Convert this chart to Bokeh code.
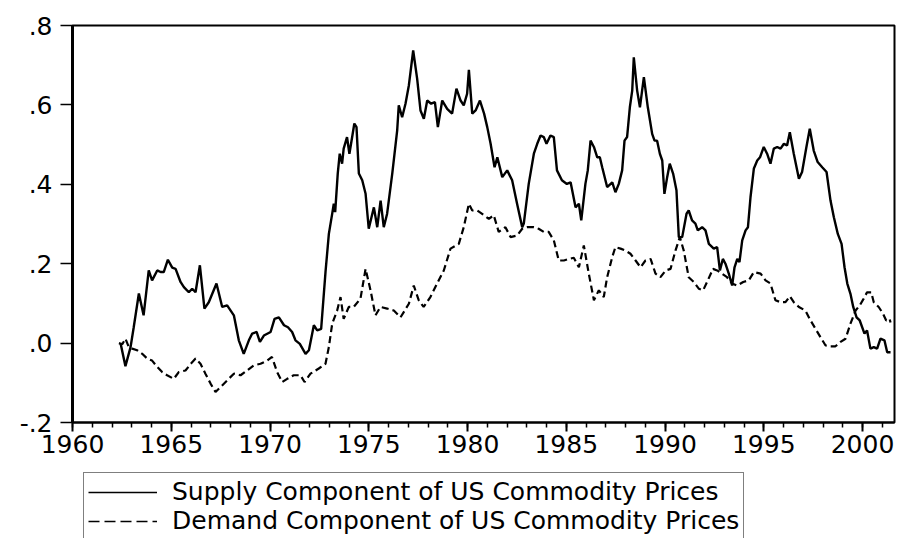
from bokeh.plotting import figure
from bokeh.layouts import column
from bokeh.models import (Range1d, FixedTicker, SingleIntervalTicker, Legend, LegendItem)
from bokeh.embed import file_html
from bokeh.resources import INLINE

# ---- data ----
supply_year = [1962.43, 1962.68, 1962.94, 1963.10, 1963.36, 1963.60, 1963.86, 1964.03, 1964.29, 1964.46,
               1964.62, 1964.83, 1965.05, 1965.22, 1965.47, 1965.64, 1965.89, 1966.06, 1966.23, 1966.45,
               1966.68, 1966.90, 1967.29, 1967.58, 1967.83, 1968.17, 1968.42, 1968.67, 1968.93, 1969.10,
               1969.32, 1969.49, 1969.69, 1970.03, 1970.23, 1970.45, 1970.71, 1970.91, 1971.12, 1971.29,
               1971.51, 1971.80, 1971.97, 1972.22, 1972.39, 1972.59, 1972.81, 1972.98, 1973.15, 1973.23,
               1973.30, 1973.43, 1973.53, 1973.65, 1973.73, 1973.90, 1974.02, 1974.16, 1974.27, 1974.38,
               1974.50, 1974.67, 1974.84, 1975.00, 1975.26, 1975.43, 1975.60, 1975.76, 1975.93, 1976.19,
               1976.44, 1976.52, 1976.69, 1976.86, 1977.03, 1977.25, 1977.45, 1977.62, 1977.79, 1977.96,
               1978.16, 1978.35, 1978.50, 1978.72, 1978.97, 1979.22, 1979.44, 1979.65, 1979.81, 1979.98,
               1980.07, 1980.24, 1980.41, 1980.63, 1980.84, 1981.00, 1981.17, 1981.37, 1981.51, 1981.76,
               1982.01, 1982.26, 1982.51, 1982.77, 1982.85, 1983.10, 1983.36, 1983.53, 1983.70, 1983.86,
               1984.00, 1984.20, 1984.37, 1984.53, 1984.78, 1985.03, 1985.22, 1985.47, 1985.64, 1985.76,
               1985.97, 1986.09, 1986.23, 1986.40, 1986.57, 1986.70, 1986.82, 1987.07, 1987.33, 1987.49,
               1987.66, 1987.83, 1987.95, 1988.08, 1988.22, 1988.34, 1988.42, 1988.59, 1988.73, 1988.93,
               1989.13, 1989.35, 1989.47, 1989.60, 1989.74, 1989.86, 1989.97, 1990.11, 1990.24, 1990.41,
               1990.58, 1990.70, 1990.87, 1991.09, 1991.20, 1991.37, 1991.54, 1991.66, 1991.88, 1992.05,
               1992.22, 1992.47, 1992.64, 1992.78, 1992.93, 1993.06, 1993.23, 1993.40, 1993.52, 1993.66,
               1993.77, 1993.91, 1994.08, 1994.20, 1994.33, 1994.50, 1994.67, 1994.81, 1995.00, 1995.17,
               1995.34, 1995.51, 1995.68, 1995.85, 1996.02, 1996.18, 1996.32, 1996.52, 1996.78, 1996.94,
               1997.16, 1997.33, 1997.53, 1997.73, 1997.96, 1998.18, 1998.38, 1998.55, 1998.75, 1998.94,
               1999.09, 1999.23, 1999.39, 1999.53, 1999.70, 1999.86, 2000.10, 2000.23, 2000.40, 2000.57,
               2000.74, 2000.91, 2001.11, 2001.25, 2001.42]
supply_value = [0.000, -0.058, -0.010, 0.040, 0.125, 0.070, 0.183, 0.158, 0.183, 0.179,
                0.179, 0.210, 0.190, 0.187, 0.154, 0.141, 0.128, 0.137, 0.128, 0.196,
                0.087, 0.103, 0.150, 0.091, 0.095, 0.070, 0.007, -0.027, 0.007, 0.024,
                0.028, 0.003, 0.019, 0.028, 0.061, 0.065, 0.045, 0.040, 0.028, 0.007,
                -0.002, -0.027, -0.018, 0.045, 0.032, 0.036, 0.179, 0.275, 0.326, 0.351,
                0.330, 0.427, 0.477, 0.452, 0.490, 0.519, 0.477, 0.519, 0.553, 0.544,
                0.427, 0.410, 0.376, 0.288, 0.342, 0.292, 0.359, 0.292, 0.326, 0.427,
                0.536, 0.599, 0.569, 0.603, 0.649, 0.737, 0.666, 0.586, 0.565, 0.611,
                0.603, 0.607, 0.544, 0.611, 0.590, 0.578, 0.641, 0.611, 0.599, 0.628,
                0.688, 0.578, 0.586, 0.611, 0.578, 0.544, 0.502, 0.443, 0.468, 0.418,
                0.435, 0.410, 0.351, 0.292, 0.301, 0.401, 0.477, 0.502, 0.523, 0.519,
                0.502, 0.523, 0.519, 0.435, 0.410, 0.401, 0.405, 0.342, 0.351, 0.309,
                0.401, 0.435, 0.510, 0.494, 0.468, 0.468, 0.443, 0.393, 0.405, 0.380,
                0.401, 0.435, 0.510, 0.519, 0.594, 0.636, 0.720, 0.636, 0.594, 0.670,
                0.594, 0.527, 0.510, 0.510, 0.477, 0.460, 0.376, 0.418, 0.452, 0.427,
                0.385, 0.267, 0.267, 0.326, 0.334, 0.309, 0.301, 0.284, 0.292, 0.284,
                0.250, 0.238, 0.242, 0.183, 0.212, 0.200, 0.175, 0.145, 0.191, 0.212,
                0.204, 0.259, 0.284, 0.292, 0.368, 0.440, 0.460, 0.468, 0.494, 0.477,
                0.452, 0.490, 0.494, 0.490, 0.502, 0.498, 0.531, 0.477, 0.414, 0.431,
                0.494, 0.540, 0.485, 0.456, 0.443, 0.431, 0.359, 0.317, 0.275, 0.250,
                0.191, 0.150, 0.124, 0.091, 0.065, 0.057, 0.024, 0.032, -0.014, -0.010,
                -0.014, 0.011, 0.007, -0.023, -0.023]

demand_year = [1962.35, 1962.52, 1962.68, 1962.85, 1963.02, 1963.27, 1963.53, 1963.78, 1964.03, 1964.29,
               1964.54, 1964.79, 1965.13, 1965.38, 1965.72, 1966.06, 1966.23, 1966.48, 1966.73, 1966.99,
               1967.24, 1967.49, 1967.83, 1968.17, 1968.51, 1968.84, 1969.18, 1969.52, 1969.86, 1970.10,
               1970.36, 1970.62, 1970.87, 1971.20, 1971.54, 1971.75, 1972.05, 1972.47, 1972.81, 1972.98,
               1973.15, 1973.40, 1973.57, 1973.73, 1973.99, 1974.24, 1974.58, 1974.84, 1975.09, 1975.34,
               1975.59, 1975.93, 1976.27, 1976.61, 1977.03, 1977.28, 1977.53, 1977.78, 1978.12, 1978.46,
               1978.80, 1979.14, 1979.56, 1979.81, 1980.07, 1980.24, 1980.49, 1980.84, 1981.08, 1981.33,
               1981.58, 1981.92, 1982.18, 1982.51, 1982.77, 1983.01, 1983.36, 1983.60, 1983.86, 1984.11,
               1984.37, 1984.62, 1984.88, 1985.13, 1985.38, 1985.64, 1985.89, 1986.14, 1986.40, 1986.65,
               1986.90, 1987.07, 1987.33, 1987.49, 1987.75, 1988.00, 1988.25, 1988.51, 1988.76, 1989.01,
               1989.27, 1989.52, 1989.77, 1990.03, 1990.28, 1990.53, 1990.75, 1990.95, 1991.20, 1991.46,
               1991.71, 1991.93, 1992.13, 1992.43, 1992.64, 1992.89, 1993.14, 1993.40, 1993.65, 1993.96,
               1994.24, 1994.50, 1994.84, 1995.09, 1995.34, 1995.59, 1995.85, 1996.10, 1996.32, 1996.52,
               1996.78, 1997.11, 1997.37, 1997.62, 1997.87, 1998.13, 1998.38, 1998.63, 1998.89, 1999.14,
               1999.39, 1999.65, 1999.86, 2000.06, 2000.23, 2000.44, 2000.57, 2000.82, 2001.04, 2001.20,
               2001.37, 2001.42]
demand_value = [0.000, -0.003, 0.011, -0.010, -0.014, -0.018, -0.027, -0.039, -0.044, -0.060,
                -0.073, -0.081, -0.090, -0.073, -0.069, -0.048, -0.039, -0.052, -0.077, -0.102,
                -0.123, -0.111, -0.094, -0.077, -0.081, -0.069, -0.056, -0.052, -0.044, -0.035,
                -0.073, -0.098, -0.090, -0.081, -0.081, -0.098, -0.077, -0.064, -0.052, -0.010,
                0.049, 0.082, 0.116, 0.061, 0.091, 0.091, 0.112, 0.187, 0.133, 0.070,
                0.091, 0.087, 0.082, 0.065, 0.099, 0.145, 0.108, 0.091, 0.116, 0.150,
                0.183, 0.238, 0.250, 0.292, 0.351, 0.334, 0.334, 0.322, 0.313, 0.322,
                0.280, 0.292, 0.267, 0.271, 0.288, 0.292, 0.292, 0.288, 0.280, 0.280,
                0.259, 0.208, 0.208, 0.212, 0.215, 0.191, 0.246, 0.175, 0.108, 0.133,
                0.116, 0.166, 0.217, 0.242, 0.238, 0.233, 0.225, 0.208, 0.191, 0.208,
                0.212, 0.175, 0.166, 0.183, 0.187, 0.233, 0.267, 0.233, 0.166, 0.154,
                0.137, 0.133, 0.154, 0.187, 0.183, 0.175, 0.166, 0.150, 0.145, 0.154,
                0.158, 0.179, 0.175, 0.158, 0.150, 0.108, 0.103, 0.103, 0.118, 0.103,
                0.091, 0.082, 0.057, 0.036, 0.015, -0.006, -0.008, -0.008, 0.003, 0.011,
                0.049, 0.082, 0.095, 0.112, 0.128, 0.128, 0.103, 0.091, 0.074, 0.057,
                0.061, 0.052]

y_ticks = [-0.2, 0.0, 0.2, 0.4, 0.6, 0.8]
y_tick_labels = ["-.2", ".0", ".2", ".4", ".6", ".8"]
series_names = ["Supply Component of US Commodity Prices",
                "Demand Component of US Commodity Prices"]

FONT = "DejaVu Sans"
W = 896

# ---- main chart ----
p = figure(width=W, height=470, output_backend="svg", toolbar_location=None,
           x_range=Range1d(1960, 2001.62), y_range=Range1d(-0.2, 0.8),
           min_border_left=72, min_border_right=2, min_border_top=25, min_border_bottom=48)

p.background_fill_color = "white"
p.border_fill_color = "white"
p.outline_line_color = "black"
p.outline_line_width = 2
p.xgrid.visible = False
p.ygrid.visible = False

xa = p.xaxis[0]
xa.ticker = SingleIntervalTicker(interval=5, num_minor_ticks=5)
xa.axis_line_width = 2
xa.major_tick_in = 0
xa.major_tick_out = 9
xa.minor_tick_in = 0
xa.minor_tick_out = 5
xa.major_tick_line_width = 2
xa.minor_tick_line_width = 1.5
xa.major_label_standoff = 3
xa.major_label_text_font = FONT
xa.major_label_text_font_size = "25px"
xa.major_label_text_color = "black"

ya = p.yaxis[0]
ya.ticker = FixedTicker(ticks=y_ticks)
ya.major_label_overrides = dict(zip(y_ticks, y_tick_labels))
ya.axis_line_width = 3
ya.major_tick_in = 0
ya.major_tick_out = 12
ya.minor_tick_line_color = None
ya.major_tick_line_width = 1.5
ya.major_label_standoff = 8
ya.major_label_text_font = FONT
ya.major_label_text_font_size = "25px"
ya.major_label_text_color = "black"

p.line(supply_year, supply_value, line_color="black", line_width=2.4)
p.line(demand_year, demand_value, line_color="black", line_width=2.2, line_dash="7 4")

# ---- legend strip below the chart (its frame is aligned with the chart's frame) ----
pl = figure(width=W, height=68, output_backend="svg", toolbar_location=None,
            x_range=Range1d(0, 1), y_range=Range1d(0, 1),
            x_axis_location=None, y_axis_location=None, min_border=0)
pl.outline_line_color = None
pl.background_fill_color = "white"
pl.border_fill_color = "white"
pl.xgrid.visible = False
pl.ygrid.visible = False

# same series, drawn out of this strip's view; used only as legend keys
k_supply = pl.line(supply_year, supply_value, line_color="black", line_width=1.5)
k_demand = pl.line(demand_year, demand_value, line_color="black", line_width=1.5,
                   line_dash="11 5")

legend = Legend(items=[LegendItem(label=series_names[0], renderers=[k_supply]),
                       LegendItem(label=series_names[1], renderers=[k_demand])],
                location=(11, -2), orientation="vertical",
                label_text_font=FONT, label_text_font_size="25px",
                label_text_color="black", label_height=29, glyph_height=20,
                glyph_width=69, label_standoff=15, padding=4, spacing=0, margin=0,
                border_line_color="black", border_line_width=1.5,
                background_fill_color="white", background_fill_alpha=1.0)
pl.add_layout(legend, "center")

layout = column(p, pl, spacing=0)
open("out.html", "w").write(file_html(layout, INLINE))
